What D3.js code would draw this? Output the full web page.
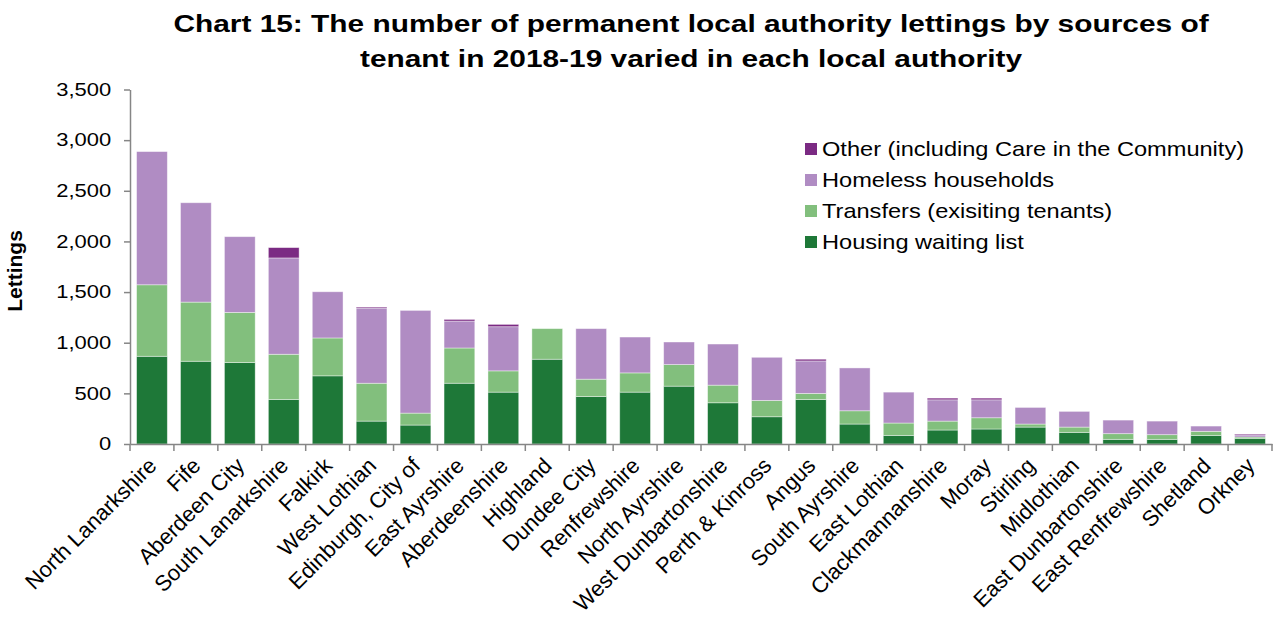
<!DOCTYPE html>
<html><head><meta charset="utf-8">
<script src="https://cdn.jsdelivr.net/npm/d3@7"></script>
<style>body{margin:0;background:#fff}svg{display:block}</style>
</head><body><svg id="c" width="1278" height="619"></svg>
<script>
const categories = ["North Lanarkshire","Fife","Aberdeen City","South Lanarkshire","Falkirk","West Lothian","Edinburgh, City of","East Ayrshire","Aberdeenshire","Highland","Dundee City","Renfrewshire","North Ayrshire","West Dunbartonshire","Perth & Kinross","Angus","South Ayrshire","East Lothian","Clackmannanshire","Moray","Stirling","Midlothian","East Dunbartonshire","East Renfrewshire","Shetland","Orkney"];
const waitingList = [866,817,804,440,673,226,187,600,512,837,469,512,571,407,269,440,197,85,138,148,167,115,46,46,85,56];
const transfers   = [706,584,495,446,374,374,118,348,210,302,171,190,213,174,161,59,131,122,88,111,30,52,56,46,40,13];
const homeless    = [1315,981,748,951,456,742,1014,266,436,0,499,354,223,406,426,321,423,305,210,177,164,155,134,134,52,20];
const other       = [0,0,0,102,0,10,0,16,23,0,0,0,0,0,0,17,0,0,17,17,0,0,0,0,0,9];
const seriesNames = ["Housing waiting list","Transfers (exisiting tenants)","Homeless households","Other (including Care in the Community)"];
const seriesColors = ["#1e7838","#82bf7d","#b08cc3","#7b2a83"];
const yTicks = [0,500,1000,1500,2000,2500,3000,3500];

const svg = d3.select("#c");
const font = "'Liberation Sans', Arial, sans-serif";
const m = {l:130, r:1272, t:89.5, b:444};
const x = d3.scaleBand().domain(categories).range([m.l, m.r]).paddingInner(0.3).paddingOuter(0.15);
const y = d3.scaleLinear().domain([0,3500]).range([m.b, m.t]);

const rows = categories.map((c,i)=>({cat:c, s0:waitingList[i], s1:transfers[i], s2:homeless[i], s3:other[i]}));
const stack = d3.stack().keys(["s0","s1","s2","s3"])(rows);

svg.append("g").selectAll("g").data(stack).join("g")
  .attr("fill",(d,i)=>seriesColors[i])
  .selectAll("rect").data(d=>d.filter(p=>p[1]-p[0]>0)).join("rect")
  .attr("x",d=>x(d.data.cat)).attr("width",x.bandwidth())
  .attr("y",d=>y(d[1])).attr("height",d=>y(d[0])-y(d[1]))
  .attr("stroke","#ffffff").attr("stroke-opacity",0.5).attr("stroke-width",0.8);

// y axis
const ya = svg.append("g").attr("transform",`translate(${m.l},0)`)
  .call(d3.axisLeft(y).tickValues(yTicks).tickFormat(d3.format(",")).tickSize(6).tickSizeOuter(0));
ya.select(".domain").attr("stroke","#868686").attr("stroke-width",1.5);
ya.selectAll(".tick line").attr("stroke","#868686").attr("stroke-width",1.5);
ya.selectAll("text").attr("font-family",font).attr("font-size",18).attr("fill","#000")
  .attr("x",-15.5).attr("transform","scale(1.22,1)");

// x axis
const xa = svg.append("g").attr("transform",`translate(0,${m.b})`)
  .call(d3.axisBottom(x).tickSize(0).tickSizeOuter(0));
xa.select(".domain").attr("stroke","#868686").attr("stroke-width",1.5);
xa.selectAll(".sep").data(d3.range(categories.length+1)).join("line")
  .attr("x1",i=>m.l+i*(m.r-m.l)/categories.length).attr("x2",i=>m.l+i*(m.r-m.l)/categories.length)
  .attr("y1",0).attr("y2",7).attr("stroke","#868686").attr("stroke-width",1.5);
xa.selectAll(".tick text").attr("font-family",font).attr("font-size",22).attr("fill","#000")
  .attr("text-anchor","end").attr("dy",0).attr("y",0)
  .attr("transform","translate(6,23) rotate(-45)");

// y title
svg.append("text").attr("transform","translate(22,271) rotate(-90)")
  .attr("text-anchor","middle").attr("font-family",font).attr("font-size",21).attr("font-weight","bold").text("Lettings");

// title
const title = svg.append("text").attr("transform","translate(691,0) scale(1.245,1)")
  .attr("font-family",font).attr("font-size",24).attr("font-weight","bold").attr("text-anchor","middle");
title.append("tspan").attr("x",0).attr("y",32).text("Chart 15: The number of permanent local authority lettings by sources of");
title.append("tspan").attr("x",0).attr("y",67).text("tenant in 2018-19 varied in each local authority");

// legend
const legOrder = [3,2,1,0];
const lg = svg.append("g").selectAll("g").data(legOrder).join("g")
  .attr("transform",(d,i)=>`translate(805,${149+i*31})`);
lg.append("rect").attr("x",0).attr("y",-6).attr("width",12).attr("height",12).attr("fill",d=>seriesColors[d]);
lg.append("text").attr("transform","translate(17,7) scale(1.18,1)").attr("font-family",font).attr("font-size",20).text(d=>seriesNames[d]);
</script></body></html>
